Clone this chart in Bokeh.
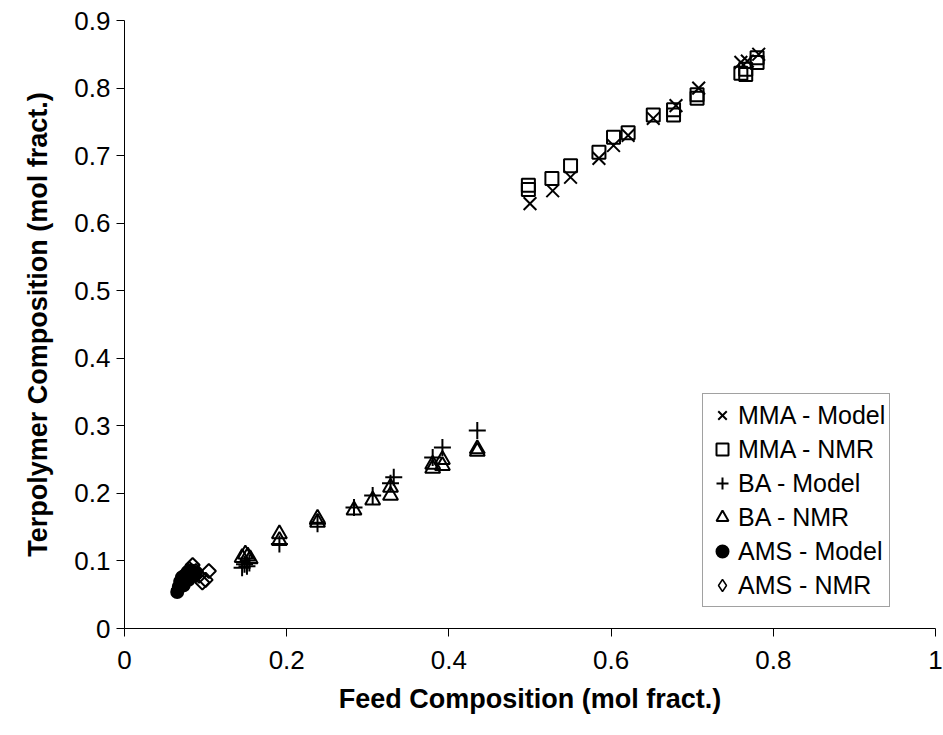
from bokeh.plotting import figure
from bokeh.models import Legend, LegendItem, Range1d, FixedTicker
from bokeh.embed import file_html
from bokeh.resources import INLINE

# Feed vs. terpolymer composition, mol fractions
mma_model_x = [0.500, 0.528, 0.550, 0.585, 0.603, 0.621, 0.652, 0.680, 0.708, 0.760, 0.768, 0.782]
mma_model_y = [0.629, 0.648, 0.668, 0.696, 0.715, 0.730, 0.755, 0.774, 0.800, 0.838, 0.840, 0.850]

mma_nmr_x = [0.498, 0.498, 0.527, 0.550, 0.585, 0.603, 0.621, 0.652, 0.677, 0.677,
             0.706, 0.706, 0.760, 0.766, 0.766, 0.780, 0.780]
mma_nmr_y = [0.656, 0.650, 0.666, 0.685, 0.705, 0.727, 0.734, 0.760, 0.760, 0.768,
             0.785, 0.790, 0.822, 0.820, 0.828, 0.838, 0.845]

ba_model_x = [0.145, 0.148, 0.151, 0.154, 0.191, 0.238, 0.283, 0.306, 0.328, 0.332, 0.380, 0.392, 0.435]
ba_model_y = [0.090, 0.095, 0.092, 0.097, 0.125, 0.155, 0.179, 0.197, 0.215, 0.224, 0.253, 0.268, 0.293]

ba_nmr_x = [0.145, 0.149, 0.152, 0.155, 0.191, 0.191, 0.238, 0.238, 0.283, 0.306,
            0.328, 0.328, 0.380, 0.380, 0.392, 0.392, 0.435, 0.435]
ba_nmr_y = [0.105, 0.110, 0.107, 0.103, 0.140, 0.130, 0.163, 0.157, 0.175, 0.190,
            0.209, 0.197, 0.237, 0.243, 0.250, 0.241, 0.266, 0.262]

ams_model_x = [0.065, 0.067, 0.069, 0.071, 0.073, 0.076, 0.079, 0.082, 0.085, 0.088]
ams_model_y = [0.054, 0.062, 0.070, 0.076, 0.064, 0.080, 0.072, 0.086, 0.078, 0.082]

ams_nmr_x = [0.067, 0.070, 0.074, 0.080, 0.084, 0.088, 0.092, 0.096, 0.100, 0.104]
ams_nmr_y = [0.058, 0.070, 0.080, 0.088, 0.094, 0.085, 0.078, 0.068, 0.072, 0.085]

x_ticks = [0, 0.2, 0.4, 0.6, 0.8, 1]
x_labels = ["0", "0.2", "0.4", "0.6", "0.8", "1"]
y_ticks = [0, 0.1, 0.2, 0.3, 0.4, 0.5, 0.6, 0.7, 0.8, 0.9]
y_labels = ["0", "0.1", "0.2", "0.3", "0.4", "0.5", "0.6", "0.7", "0.8", "0.9"]

FONT = "Liberation Sans"

p = figure(width=943, height=735, x_range=Range1d(0, 1), y_range=Range1d(0, 0.9),
           output_backend="svg", toolbar_location=None,
           min_border_left=124, min_border_right=8, min_border_top=20, min_border_bottom=107)
p.grid.visible = False
p.outline_line_color = None
p.background_fill_color = "white"
p.border_fill_color = "white"

for ax, ticks, labels in ((p.xaxis, x_ticks, x_labels), (p.yaxis, y_ticks, y_labels)):
    ax.ticker = FixedTicker(ticks=ticks)
    ax.major_label_overrides = dict(zip(ticks, labels))
    ax.axis_line_color = "black"
    ax.axis_line_width = 1
    ax.major_tick_line_color = "black"
    ax.major_tick_out = 8
    ax.major_tick_in = 0
    ax.minor_tick_line_color = None
    ax.major_label_text_font = FONT
    ax.major_label_text_font_size = "26px"
    ax.major_label_text_color = "black"
    ax.axis_label_text_font = FONT
    ax.axis_label_text_font_size = "27px"
    ax.axis_label_text_font_style = "bold"
    ax.axis_label_text_color = "black"

p.xaxis.axis_label = "Feed Composition (mol fract.)"
p.yaxis.axis_label = "Terpolymer Composition (mol fract.)"
p.xaxis.major_label_standoff = 14
p.xaxis.axis_label_standoff = 12
p.yaxis.major_label_standoff = 6
p.yaxis.axis_label_standoff = 18

common = dict(line_color="black", line_width=2)
r_mma_m = p.scatter(mma_model_x, mma_model_y, marker="x", size=18, **common)
r_mma_n = p.scatter(mma_nmr_x, mma_nmr_y, marker="square", size=13, fill_color=None, **common)
r_ba_m = p.scatter(ba_model_x, ba_model_y, marker="cross", size=17, **common)
r_ba_n = p.scatter(ba_nmr_x, ba_nmr_y, marker="triangle", size=15, fill_color=None, **common)
r_ams_m = p.scatter(ams_model_x, ams_model_y, marker="circle", size=12, fill_color="black", **common)
# open diamonds: squares turned by 45 degrees
r_ams_n = p.scatter(ams_nmr_x, ams_nmr_y, marker="square", angle=0.785398, size=10,
                    fill_color=None, **common)
# hidden twin that supplies the diamond swatch in the key (the key draws markers unrotated)
ams_nmr_key = p.scatter(ams_nmr_x, ams_nmr_y, marker="diamond", size=12, fill_color=None,
                        line_color="black", line_width=1.5, visible=False)

legend = Legend(items=[
    LegendItem(label="MMA - Model", renderers=[r_mma_m]),
    LegendItem(label="MMA - NMR", renderers=[r_mma_n]),
    LegendItem(label="BA - Model", renderers=[r_ba_m]),
    LegendItem(label="BA - NMR", renderers=[r_ba_n]),
    LegendItem(label="AMS - Model", renderers=[r_ams_m]),
    LegendItem(label="AMS - NMR", renderers=[ams_nmr_key]),
], location=(578, 21))
legend.border_line_color = "#444444"
legend.border_line_width = 1
legend.background_fill_color = "white"
legend.background_fill_alpha = 1
legend.inactive_fill_alpha = 0
legend.label_text_font = FONT
legend.label_text_font_size = "25px"
legend.label_text_color = "black"
legend.glyph_width = 30
legend.glyph_height = 34
legend.label_height = 34
legend.spacing = 0
legend.padding = 4
legend.margin = 0
legend.label_standoff = 1
p.add_layout(legend)

open("out.html", "w").write(file_html(p, INLINE))
